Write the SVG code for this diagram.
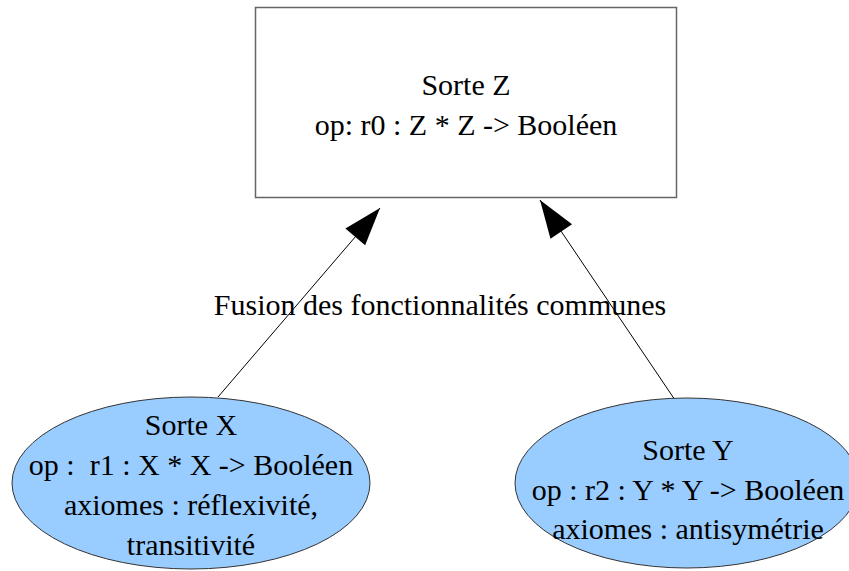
<svg xmlns="http://www.w3.org/2000/svg" width="849" height="571" viewBox="0 0 849 571">
<style>
text{font-family:"Liberation Serif","Times New Roman",serif;font-size:30px;fill:#000;text-anchor:middle}
.box{fill:#fff;stroke:#666;stroke-width:1.5}
.ell{fill:#99ccff;stroke:#333;stroke-width:1}
.conn{stroke:#000;stroke-width:1;fill:none;marker-end:url(#ah)}
</style>
<defs>
<marker id="ah" markerUnits="userSpaceOnUse" markerWidth="42" markerHeight="30" viewBox="-40 -15 42 30" refX="0" refY="0" orient="auto">
<path d="M0,0 L-38,-13 L-38,13 z" fill="#000"/>
</marker>
</defs>
<rect width="849" height="571" fill="#fff"/>
<g id="connectors">
<line class="conn" x1="218" y1="397" x2="380" y2="208"/>
<line class="conn" x1="675" y1="400" x2="540" y2="200"/>
<text x="440" y="315">Fusion des fonctionnalités communes</text>
</g>
<g id="sorteZ">
<rect class="box" x="255.5" y="7.5" width="421" height="190"/>
<text x="466" y="95">Sorte Z</text>
<text x="466" y="135">op: r0 : Z * Z -&gt; Booléen</text>
</g>
<g id="sorteX">
<ellipse class="ell" cx="191" cy="483" rx="179" ry="86"/>
<text x="191" y="435">Sorte X</text>
<text x="191" y="475" xml:space="preserve">op :  r1 : X * X -&gt; Booléen</text>
<text x="191" y="515">axiomes : réflexivité,</text>
<text x="191" y="555">transitivité</text>
</g>
<g id="sorteY">
<ellipse class="ell" cx="687" cy="483" rx="172" ry="85"/>
<text x="688" y="460">Sorte Y</text>
<text x="688" y="500">op : r2 : Y * Y -&gt; Booléen</text>
<text x="688" y="539">axiomes : antisymétrie</text>
</g>
</svg>
